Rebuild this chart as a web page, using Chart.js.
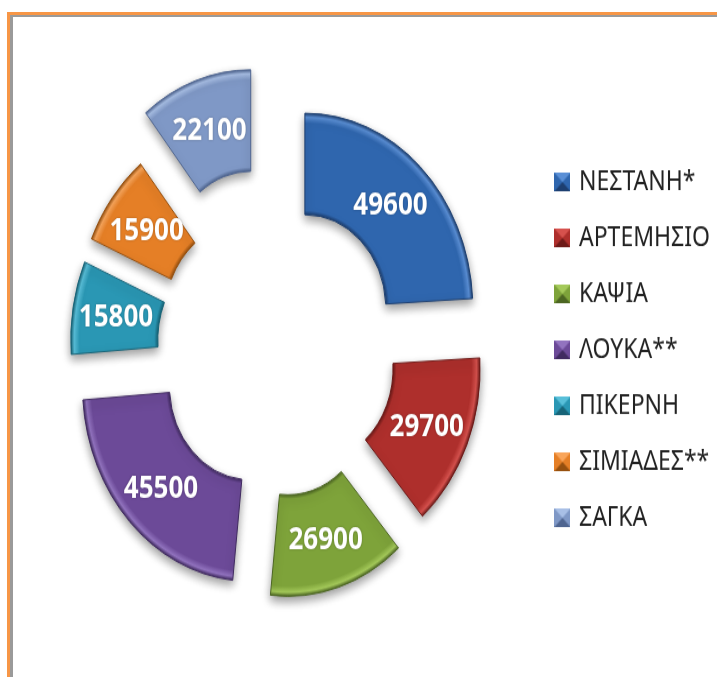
<!DOCTYPE html>
<html><head><meta charset="utf-8">
<style>
html,body{margin:0;padding:0;background:#fff;width:717px;height:677px;overflow:hidden}
#f1{position:absolute;left:7px;top:12px;right:0;bottom:0;border-left:3px solid #F79646;border-top:3px solid #F79646}
#f2{position:absolute;left:0;top:0;right:0;bottom:0;border-left:3px solid #9a9a9a;border-top:2px solid #9a9a9a}
#w{position:absolute;left:0;top:0;width:723px;height:595px;transform:scale(1,1.166);transform-origin:0 0}
</style>
<script src="https://cdn.jsdelivr.net/npm/chart.js@4"></script>
</head><body>
<div id="f1"><div id="f2"></div></div>
<div id="w"><canvas id="c" width="723" height="595"></canvas></div>
<script>
const categories = ['ΝΕΣΤΑΝΗ*','ΑΡΤΕΜΗΣΙΟ','ΚΑΨΙΑ','ΛΟΥΚΑ**','ΠΙΚΕΡΝΗ','ΣΙΜΙΑΔΕΣ**','ΣΑΓΚΑ'];
const values = [49600,29700,26900,45500,15800,15900,22100];
const explodeBy = [46,40,46,36,36,36,77];
const nudgeX = [0,2,1,3,1,1,3];
const nudgeY = [1,3,2,8,0,-4,3];
const baseColors = ['#2f66ae','#ae2f2c','#7ea33a','#6c4a98','#2a97b4','#e57f26','#7f98c6'];
const lightColors = ['#5a8fd6','#d6514d','#a4c95a','#9273bf','#58bfd9','#f9a55a','#a8bfe6'];
const darkColors = ['#1d3f70','#6d1a18','#4c6622','#402a60','#176478','#96500f','#4f6590'];
const OUTER = 168, INNER = 81;

function midAngle(i){
  const total = values.reduce((a,b)=>a+b,0);
  const before = values.slice(0,i).reduce((a,b)=>a+b,0);
  return (before + values[i]/2)/total*2*Math.PI - Math.PI/2;
}
function sliceShift(i){
  const m = midAngle(i);
  return {x:Math.cos(m)*explodeBy[i]+nudgeX[i], y:Math.sin(m)*explodeBy[i]+nudgeY[i]};
}
function bevel(i){
  const s = 16, c = document.createElement('canvas'); c.width = s; c.height = s;
  const g = c.getContext('2d');
  const tri = (col, pts) => { g.fillStyle = col; g.beginPath(); pts.forEach((p,k)=>k?g.lineTo(p[0],p[1]):g.moveTo(p[0],p[1])); g.closePath(); g.fill(); };
  const m = s/2;
  tri(baseColors[i], [[0,0],[s,0],[s,s],[0,s]]);
  tri(lightColors[i], [[0,0],[s,0],[m,m]]);
  tri(darkColors[i], [[0,s],[s,s],[m,m]]);
  return c;
}

const explode = {
  id:'explode',
  afterDatasetsUpdate(ch){
    ch.getDatasetMeta(0).data.forEach((a,i)=>{
      const s = sliceShift(i);
      a.x += s.x; a.y += s.y;
    });
  }
};
const shadow = {
  id:'shadow',
  beforeDatasetDraw(ch){ const x=ch.ctx; x.save(); x.shadowColor='rgba(0,0,0,.4)'; x.shadowBlur=8; x.shadowOffsetY=4; },
  afterDatasetDraw(ch){ ch.ctx.restore(); }
};
const valueLabels = {
  id:'valueLabels',
  afterDatasetsDraw(ch){
    const x = ch.ctx, arcs = ch.getDatasetMeta(0).data;
    x.save();
    x.font = 'bold 26px "Noto Sans"'; x.textAlign='center'; x.textBaseline='middle';
    x.fillStyle='#fff'; x.shadowColor='rgba(0,0,0,.3)'; x.shadowBlur=2;
    arcs.forEach((a,i)=>{
      const m = midAngle(i), r = (OUTER+INNER)/2;
      x.fillText(String(values[i]), a.x+Math.cos(m)*r, a.y+Math.sin(m)*r+2);
    });
    x.restore();
  }
};

new Chart(document.getElementById('c'),{
  type:'doughnut',
  data:{labels:categories,datasets:[{
    data:values,
    borderWidth:1,
    borderColor:(c)=>darkColors[c.dataIndex],
    backgroundColor:(c)=>{
      const a=c.chart.chartArea, i=c.dataIndex;
      if(!a) return baseColors[i];
      const s=sliceShift(i);
      const cx=(a.left+a.right)/2+s.x, cy=(a.top+a.bottom)/2+s.y;
      const g=c.chart.ctx.createRadialGradient(cx,cy,INNER,cx,cy,OUTER);
      g.addColorStop(0,darkColors[i]);
      g.addColorStop(.04,baseColors[i]);
      g.addColorStop(.9,baseColors[i]);
      g.addColorStop(.96,lightColors[i]);
      g.addColorStop(1,darkColors[i]);
      return g;
    }
  }]},
  options:{
    responsive:false,animation:false,
    radius:OUTER,cutout:'48.2%',rotation:0,
    layout:{padding:{top:0,bottom:0,left:14,right:3}},
    plugins:{
      tooltip:{enabled:false},
      legend:{
        position:'right',align:'center',
        title:{display:true,text:' ',font:{size:1},padding:{top:4,bottom:0}},
        labels:{
          usePointStyle:true,
          pointStyleWidth:10,
          padding:25,
          color:'#222',
          font:{family:'"Noto Sans"',size:23},
          generateLabels:(ch)=>categories.map((t,i)=>({text:t,index:i,pointStyle:bevel(i),fontColor:'#222',hidden:false,lineWidth:0}))
        }
      }
    }
  },
  plugins:[explode,shadow,valueLabels]
});
</script>
</body></html>
